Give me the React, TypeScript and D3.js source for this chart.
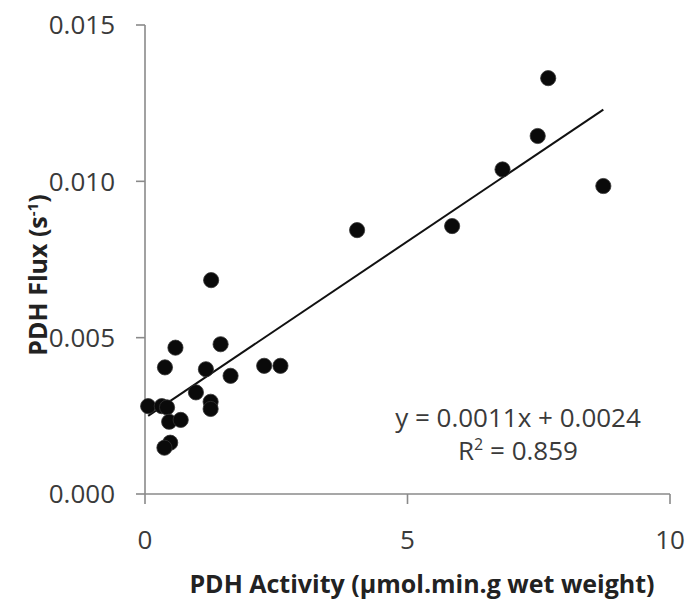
import React from "react";
import * as d3 from "d3";

const activity = [1.26, 0.58, 1.44, 0.38, 1.16, 1.63, 2.27, 2.58, 0.97, 1.25, 1.25, 0.06, 0.32, 0.42, 0.46, 0.68, 0.48, 0.37, 4.04, 5.85, 6.81, 7.48, 7.68, 8.73];
const flux = [0.00684, 0.00468, 0.00479, 0.00405, 0.00399, 0.00378, 0.0041, 0.0041, 0.00325, 0.00295, 0.00272, 0.00281, 0.00281, 0.00277, 0.00231, 0.00237, 0.00164, 0.00148, 0.00844, 0.00857, 0.01038, 0.01145, 0.0133, 0.00985];
const xTicks = [0, 5, 10];
const yTicks = [0, 0.005, 0.01, 0.015];
const trendSlope = 0.00113;
const trendIntercept = 0.00243;
const equationText = "y = 0.0011x + 0.0024";
const r2Value = "0.859";
const xTitle = "PDH Activity (µmol.min.g wet weight)";

const W = 688;
const H = 602;
const FONT = "'Open Sans', sans-serif";

export default function App() {
  const x = d3.scaleLinear().domain([0, 10]).range([145, 670]);
  const y = d3.scaleLinear().domain([0, 0.015]).range([494, 25]);
  const pts = activity.map((a, i) => ({ a, f: flux[i] }));
  const [xmin, xmax] = d3.extent(activity) as [number, number];
  const line = d3.line<number>().x((d) => x(d)).y((d) => y(trendSlope * d + trendIntercept));
  const axisColor = "#8a8a8a";
  const textColor = "#3a3a3a";
  return (
    <svg width={W} height={H} style={{ position: "absolute", left: 0, top: 0, background: "#fff" }}>
      <rect x={0} y={0} width={W} height={H} fill="#fff" />
      {/* y axis */}
      <line x1={x(0)} x2={x(0)} y1={y(0.015)} y2={y(0)} stroke={axisColor} strokeWidth={1.6} />
      {yTicks.map((t) => (
        <g key={"yt" + t}>
          <line x1={x(0) - 9} x2={x(0)} y1={y(t)} y2={y(t)} stroke={axisColor} strokeWidth={1.6} />
          <text x={115} y={y(t) + 9.3} textAnchor="end" fontFamily={FONT} fontSize={26} fill={textColor}>
            {t.toFixed(3)}
          </text>
        </g>
      ))}
      {/* x axis */}
      <line x1={x(0)} x2={x(10)} y1={y(0)} y2={y(0)} stroke={axisColor} strokeWidth={1.6} />
      {xTicks.map((t) => (
        <g key={"xt" + t}>
          <line x1={x(t)} x2={x(t)} y1={y(0)} y2={y(0) + 10} stroke={axisColor} strokeWidth={1.6} />
          <text x={x(t)} y={549} textAnchor="middle" fontFamily={FONT} fontSize={26} fill={textColor}>
            {t}
          </text>
        </g>
      ))}
      {/* trend line */}
      <path d={line([xmin, xmax]) || ""} stroke="#111" strokeWidth={2} fill="none" />
      {/* points */}
      {pts.map((p, i) => (
        <circle key={i} cx={x(p.a)} cy={y(p.f)} r={7.6} fill="#0a0a0a" stroke="#333" strokeWidth={0.8} />
      ))}
      {/* equation */}
      <text x={518} y={427} textAnchor="middle" fontFamily={FONT} fontSize={26} fill={textColor}>
        {equationText}
      </text>
      <text x={518} y={460} textAnchor="middle" fontFamily={FONT} fontSize={26} fill={textColor}>
        R<tspan dy={-10} fontSize={16}>2</tspan>
        <tspan dy={10}> = {r2Value}</tspan>
      </text>
      {/* titles */}
      <text x={422} y={593} textAnchor="middle" fontFamily={FONT} fontWeight="bold" fontSize={25} fill="#222">
        {xTitle}
      </text>
      <text
        transform={`translate(47,275) rotate(-90)`}
        textAnchor="middle"
        fontFamily={FONT}
        fontWeight="bold"
        fontSize={25}
        fill="#222"
      >
        PDH Flux (s<tspan dy={-9} fontSize={15}>-1</tspan>
        <tspan dy={9}>)</tspan>
      </text>
    </svg>
  );
}
